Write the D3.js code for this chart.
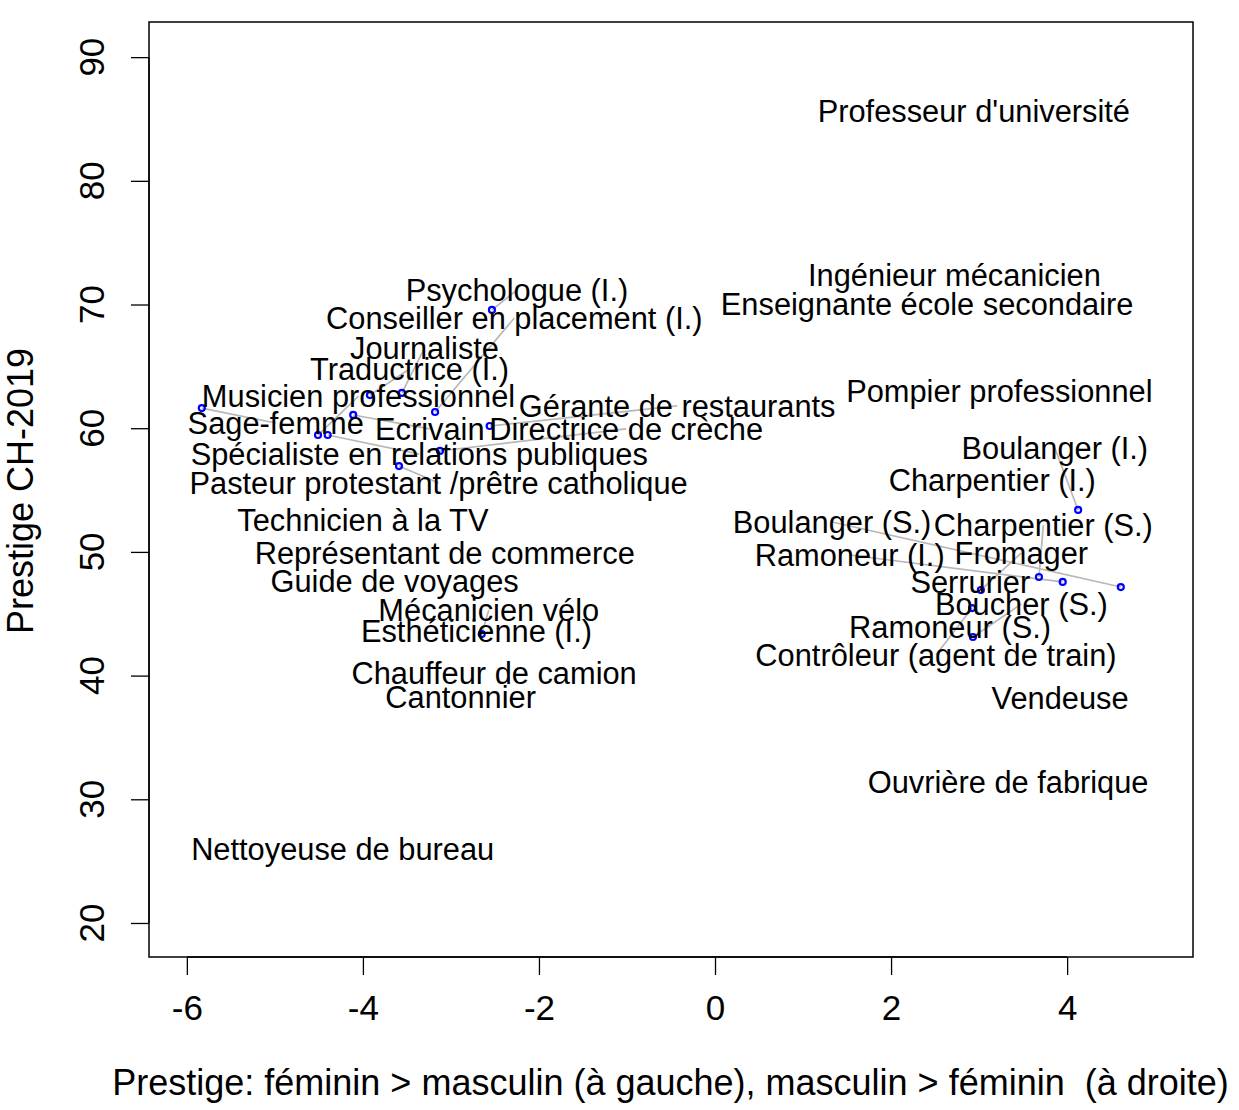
<!DOCTYPE html>
<html><head><meta charset="utf-8">
<script src="https://cdn.jsdelivr.net/npm/d3@7"></script>
<style>body{margin:0;background:#fff}svg{display:block}text{font-family:"Liberation Sans",Arial,Helvetica,sans-serif;white-space:pre}</style>
</head><body><svg id="c" width="1239" height="1110"></svg>
<script>
// Job labels
const jobs = ["Professeur d'université","Ingénieur mécanicien","Enseignante école secondaire","Pompier professionnel",
"Boulanger (I.)","Charpentier (I.)","Boulanger (S.)","Charpentier (S.)","Ramoneur (I.)","Fromager","Serrurier",
"Boucher (S.)","Ramoneur (S.)","Contrôleur (agent de train)","Vendeuse","Ouvrière de fabrique",
"Psychologue (I.)","Conseiller en placement (I.)","Journaliste","Traductrice (I.)","Musicien professionnel",
"Gérante de restaurants","Sage-femme","Ecrivain","Directrice de crèche","Spécialiste en relations publiques",
"Pasteur protestant /prêtre catholique","Technicien à la TV","Représentant de commerce","Guide de voyages",
"Mécanicien vélo","Esthéticienne (I.)","Chauffeur de camion","Cantonnier","Nettoyeuse de bureau"];
// gender prestige difference (x)
const genderDiff = [2.94,2.72,2.41,3.23,4.125,3.15,4.61,3.68,3.95,3.02,2.90,2.93,2.67,2.92,3.92,3.33,
-2.534,-3.18,-3.557,-3.92,-4.51,-2.56,-5.83,-4.11,-3.125,-4.40,-3.59,-4.0,-3.07,-3.64,-2.65,-2.71,-2.51,-2.89,-4.23];
// prestige CH-2019 (y)
const prestige = [85.64,72.39,70.04,63.01,53.39,55.81,47.16,47.97,47.57,46.92,47.57,43.12,43.93,45.46,38.19,31.40,
69.56,61.31,62.85,62.68,59.45,60.18,61.63,61.07,58.16,59.45,56.94,52.58,49.91,47.65,43.36,43.61,40.21,38.27,25.98];
// displaced label positions (data units) where labels were moved to avoid overlap; null = at point
const labelX = [null,null,null,null,3.86,null,1.33,3.73,1.53,3.48,null,3.48,null,2.51,null,null,
-2.25,-2.28,-3.30,-3.47,-4.05,-0.43,-4.99,-3.24,-1.01,-3.36,-3.14,null,null,null,-2.57,null,null,null,null];
const labelY = [null,null,null,null,58.4,null,52.42,52.17,49.75,49.91,null,45.79,null,41.67,null,null,
71.17,68.91,66.48,64.79,62.6,61.8,60.42,59.94,59.94,57.91,55.57,null,null,null,45.30,null,null,null,null];
const xTicks = [-6,-4,-2,0,2,4];
const yTicks = [20,30,40,50,60,70,80,90];
const xTitle = "Prestige: féminin > masculin (à gauche), masculin > féminin  (à droite)";
const yTitle = "Prestige CH-2019";

const svg = d3.select("#c");
const L=149,R=1193,T=22,B=957;
const x = d3.scaleLinear().domain([-6.43,5.43]).range([L,R]);
const y = d3.scaleLinear().domain([17.25,92.84]).range([B,T]);

const data = jobs.map((j,i)=>({name:j,x:genderDiff[i],y:prestige[i],
  lx: labelX[i]==null?genderDiff[i]:labelX[i], ly: labelY[i]==null?prestige[i]:labelY[i], moved: labelX[i]!=null}));

// x axis
const xa = svg.append("g").attr("transform",`translate(0,${B})`)
  .call(d3.axisBottom(x).tickValues(xTicks).tickSize(18).tickPadding(20).tickFormat(d=>d<0?"-"+Math.abs(d):d));
xa.select(".domain").attr("d",`M${x(-6)},0H${x(4)}`).attr("stroke","#000").attr("stroke-width",1.3);
xa.selectAll("line").attr("stroke","#000").attr("stroke-width",1.3);
xa.selectAll("text").attr("font-size",35).attr("fill","#000").attr("font-family","Liberation Sans, Arial").attr("dy","0.71em");

// y axis
const ya = svg.append("g").attr("transform",`translate(${L},0)`)
  .call(d3.axisLeft(y).tickValues(yTicks).tickSize(18).tickPadding(0).tickFormat(""));
ya.select(".domain").attr("d",`M0,${y(20)}V${y(90)}`).attr("stroke","#000").attr("stroke-width",1.3);
ya.selectAll("line").attr("stroke","#000").attr("stroke-width",1.3);
svg.append("g").selectAll("text").data(yTicks).join("text")
  .attr("transform",d=>`translate(${L-45},${y(d)}) rotate(-90)`)
  .attr("text-anchor","middle").attr("font-size",35).attr("fill","#000").text(d=>d);

// box
svg.append("rect").attr("x",L).attr("y",T).attr("width",R-L).attr("height",B-T)
  .attr("fill","none").attr("stroke","#000").attr("stroke-width",1.5);

// connector lines
svg.append("g").selectAll("line").data(data.filter(d=>d.moved)).join("line")
  .attr("x1",d=>x(d.x)).attr("y1",d=>y(d.y)).attr("x2",d=>x(d.lx)).attr("y2",d=>y(d.ly))
  .attr("stroke","#b8b8b8").attr("stroke-width",1.7);
// points
svg.append("g").selectAll("circle").data(data.filter(d=>d.moved)).join("circle")
  .attr("cx",d=>x(d.x)).attr("cy",d=>y(d.y)).attr("r",3)
  .attr("fill","none").attr("stroke","#0000ff").attr("stroke-width",2.2);
// labels
svg.append("g").selectAll("text").data(data).join("text")
  .attr("x",d=>x(d.lx)).attr("y",d=>y(d.ly)).attr("dy","0.36em")
  .attr("text-anchor","middle").attr("font-size",30.8).attr("fill","#000").text(d=>d.name);

// titles
svg.append("text").attr("x",(113+1228)/2).attr("y",1095).attr("text-anchor","middle")
  .attr("font-size",36).attr("fill","#000").text(xTitle);
svg.append("text").attr("transform",`translate(33,491) rotate(-90)`).attr("text-anchor","middle")
  .attr("font-size",36).attr("fill","#000").text(yTitle);
</script></body></html>
